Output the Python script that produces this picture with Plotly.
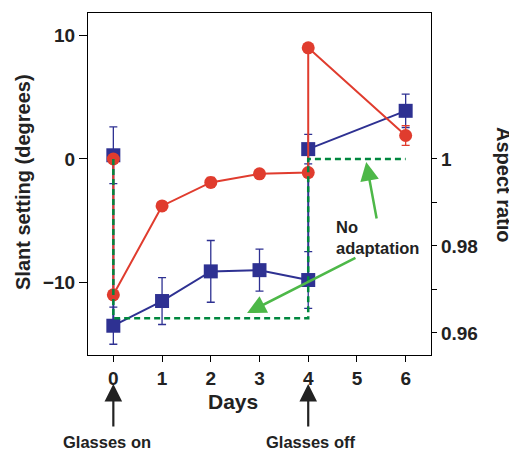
import plotly.graph_objects as go

# ---- data ----
days = [0, 1, 2, 3, 4, 5, 6]
blue_x = [0, 0, 1, 2, 3, 4, 4, 6]
blue_y = [0.3, -13.5, -11.5, -9.1, -9.0, -9.8, 0.8, 3.9]
blue_err = [2.3, 1.5, 1.9, 2.5, 1.7, 2.3, 1.2, 1.35]
red_x = [0, 0, 1, 2, 3, 4, 4, 6]
red_y = [0.0, -11.0, -3.8, -1.9, -1.2, -1.1, 9.0, 1.9]
red_err = [0.3, 0.3, 0.3, 0.4, 0.3, 0.3, 0.3, 0.8]
noadapt_x = [0, 0, 4, 4, 6]
noadapt_ar = [1.0, 0.9634, 0.9634, 1.0, 1.0]
left_ticks = [-10, 0, 10]
right_ticks = [0.96, 0.97, 0.98, 0.99, 1.0]
right_ticktext = ["0.96", "", "0.98", "", "1"]

BLUE = "#2E3192"
RED = "#E03C2E"
GREEN = "#00873F"
LGREEN = "#4DB848"
FONT = "Liberation Sans"
TXT = "#222"

# page body has an 8px margin: figure occupies page pixels 8..517, 8..451
OFF = 8
W, H = 517 - OFF, 451 - OFF
ML, MR, MT, MB = 88 - OFF, 86, 13 - OFF, 96
PW, PH = W - ML - MR, H - MT - MB


def px(xp):
    return (xp - OFF - ML) / PW


def py(yp):
    return (H - MB - (yp - OFF)) / PH


fig = go.Figure()
fig.add_trace(go.Scatter(
    x=blue_x, y=blue_y, mode="lines+markers",
    line=dict(color=BLUE, width=2),
    marker=dict(symbol="square", size=14, color=BLUE),
    error_y=dict(type="data", array=blue_err, color=BLUE, thickness=1.3, width=4),
    yaxis="y"))
fig.add_trace(go.Scatter(
    x=red_x, y=red_y, mode="lines+markers",
    line=dict(color=RED, width=2),
    marker=dict(symbol="circle", size=13, color=RED),
    error_y=dict(type="data", array=red_err, color=RED, thickness=1.3, width=4),
    yaxis="y"))
fig.add_trace(go.Scatter(
    x=noadapt_x, y=noadapt_ar, mode="lines",
    line=dict(color=GREEN, width=2.5, dash="6px,4px"),
    yaxis="y2"))

tickfont = dict(family=FONT, size=19, color=TXT, weight="bold")
fig.update_layout(
    width=W, height=H,
    margin=dict(l=ML, r=MR, t=MT, b=MB),
    paper_bgcolor="white", plot_bgcolor="white",
    showlegend=False,
    xaxis=dict(range=[-0.52, 6.52], tickvals=days, showgrid=False, zeroline=False,
               showline=True, linecolor="black", linewidth=1.2, mirror=True,
               ticks="outside", ticklen=6, tickcolor="black",
               tickfont=dict(family=FONT, size=19, color=TXT, weight="bold")),
    yaxis=dict(range=[-15.87, 11.82], tickvals=left_ticks, showgrid=False, zeroline=False,
               showline=True, linecolor="black", linewidth=1.2,
               ticks="outside", ticklen=8, tickcolor="black", tickfont=tickfont),
    yaxis2=dict(range=[0.95494, 1.03356], overlaying="y", side="right",
                tickvals=right_ticks, ticktext=right_ticktext, showgrid=False, zeroline=False,
                showline=True, linecolor="black", linewidth=1.2,
                ticks="outside", ticklen=5, tickcolor="black", tickfont=tickfont),
)

ann_font = dict(family=FONT, size=16.5, color=TXT, weight="bold")
fig.add_annotation(x=4.52, y=-4.6, xref="x", yref="y", text="No<br>adaptation",
                   showarrow=False, xanchor="left", yanchor="top", align="left", font=ann_font)
# green arrows
fig.add_annotation(x=5.19, y=-0.24, ax=5.41, ay=-4.94, xref="x", yref="y", axref="x", ayref="y",
                   text="", showarrow=True, arrowhead=2, arrowsize=1.5, arrowwidth=2.5, arrowcolor=LGREEN)
fig.add_annotation(x=2.745, y=-12.47, ax=5.0, ay=-7.94, xref="x", yref="y", axref="x", ayref="y",
                   text="", showarrow=True, arrowhead=2, arrowsize=1.5, arrowwidth=2.5, arrowcolor=LGREEN)
# black arrows below axis
for d in [0, 4]:
    fig.add_annotation(x=d, y=py(384), xref="x", yref="paper", ax=0, ay=44,
                       text="", showarrow=True, arrowhead=2, arrowsize=1.6, arrowwidth=2.2,
                       arrowcolor=TXT)
small_font = dict(family=FONT, size=16.5, color=TXT, weight="bold")
fig.add_annotation(x=px(107), y=py(442), xref="paper", yref="paper", text="Glasses on",
                   showarrow=False, xanchor="center", yanchor="middle", font=small_font)
fig.add_annotation(x=px(310), y=py(442), xref="paper", yref="paper", text="Glasses off",
                   showarrow=False, xanchor="center", yanchor="middle", font=small_font)
# axis titles
fig.add_annotation(x=px(233), y=py(401), xref="paper", yref="paper", text="Days", showarrow=False,
                   xanchor="center", yanchor="middle",
                   font=dict(family=FONT, size=21, color=TXT, weight="bold"))
fig.add_annotation(x=px(23), y=py(182), xref="paper", yref="paper", text="Slant setting (degrees)",
                   showarrow=False, textangle=-90, xanchor="center", yanchor="middle",
                   font=dict(family=FONT, size=20, color=TXT, weight="bold"))
fig.add_annotation(x=px(504), y=py(185), xref="paper", yref="paper", text="Aspect ratio",
                   showarrow=False, textangle=90, xanchor="center", yanchor="middle",
                   font=dict(family=FONT, size=20, color=TXT, weight="bold"))

fig.write_html("out.html")
